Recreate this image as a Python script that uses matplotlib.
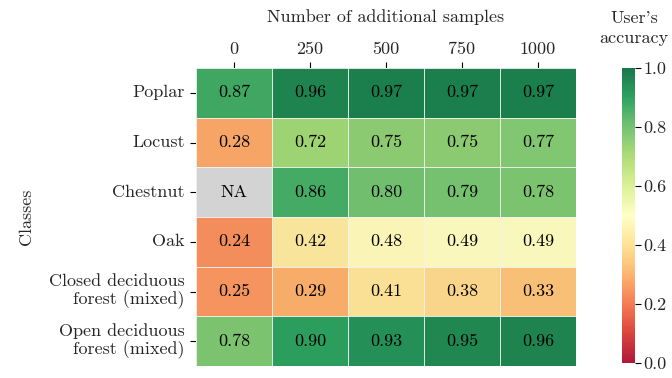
import numpy as np
import matplotlib
matplotlib.use("Agg")
import matplotlib.pyplot as plt
import seaborn as sns

classes = ["Poplar", "Locust", "Chestnut", "Oak", "Closed deciduous\nforest (mixed)", "Open deciduous\nforest (mixed)"]
samples = ["0", "250", "500", "750", "1000"]
poplar = [0.87, 0.96, 0.97, 0.97, 0.97]
locust = [0.28, 0.72, 0.75, 0.75, 0.77]
chestnut = [np.nan, 0.86, 0.80, 0.79, 0.78]
oak = [0.24, 0.42, 0.48, 0.49, 0.49]
closed = [0.25, 0.29, 0.41, 0.38, 0.33]
open_ = [0.78, 0.90, 0.93, 0.95, 0.96]

data = np.array([poplar, locust, chestnut, oak, closed, open_])
annot = np.where(np.isnan(data), "", np.vectorize(lambda v: f"{v:.2f}")(np.nan_to_num(data)))

sns.set_style("white")
plt.rcParams["font.family"] = ["cmr10", "DejaVu Serif"]
plt.rcParams["mathtext.fontset"] = "cm"
plt.rcParams["axes.formatter.use_mathtext"] = True

fs = 13
fig = plt.figure(figsize=(6.72, 3.78), dpi=100)
ax = fig.add_axes([196/672, 1-366/378, 380/672, 298/378])
cax = fig.add_axes([622/672, 1-363/378, 13/672, 295/378])
ax.set_facecolor("lightgrey")
sns.heatmap(data, ax=ax, cbar_ax=cax, cmap="RdYlGn", vmin=0, vmax=1, alpha=0.9,
            annot=annot, fmt="", annot_kws={"color": "black", "fontsize": fs},
            linewidths=0.6, linecolor="#f2f2f2", xticklabels=samples, yticklabels=classes)
for i in range(data.shape[0]):
    for j in range(data.shape[1]):
        if np.isnan(data[i, j]):
            ax.text(j + 0.5, i + 0.5, "NA", ha="center", va="center", color="black", fontsize=fs)
ax.xaxis.tick_top()
ax.xaxis.set_label_position("top")
ax.set_xlabel("Number of additional samples", fontsize=fs, labelpad=14)
ax.set_ylabel("Classes", fontsize=fs, labelpad=11)
ax.tick_params(axis="both", which="both", length=4, width=0.8, color="black", labelsize=fs, pad=4)
ax.tick_params(axis="x", bottom=False, top=True, labelbottom=False, labeltop=True)
ax.tick_params(axis="y", left=True)
ax.set_yticklabels(classes, rotation=0, ha="right", linespacing=1.05)
ax.set_xticklabels(samples, rotation=0)
cax.tick_params(length=4, width=0.8, color="black", labelsize=fs, right=True, pad=2)
cax.set_yticks([0, 0.2, 0.4, 0.6, 0.8, 1.0])
cax.set_yticklabels(["0.0", "0.2", "0.4", "0.6", "0.8", "1.0"])
fig.text(634/672, 1-28/378, "User's\naccuracy", ha="center", va="center", fontsize=fs, linespacing=1.4)
fig.savefig("out.png", dpi=100)
